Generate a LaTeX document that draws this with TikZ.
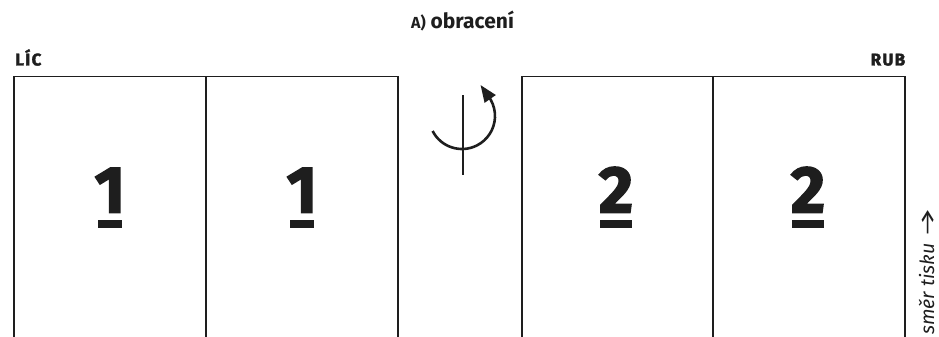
\documentclass[tikz,border=0pt]{standalone}
\usepackage{fontspec}
\setmainfont{Fira Sans}
\usetikzlibrary{arrows.meta}
\definecolor{ink}{HTML}{1E1E1E}
\newfontfamily\heavyfont[FakeBold=2]{Fira Sans Bold}
\newfontfamily\digitfont[FakeBold=2.5]{Fira Sans Bold}
\tikzset{
  sheet/.style={draw=ink, line width=1.1pt},
  title/.style={font=\fontsize{21}{21}\selectfont\bfseries, text=ink, inner sep=0pt},
  side/.style={font=\fontsize{17}{17}\heavyfont\addfontfeature{LetterSpace=8}, text=ink, inner sep=0pt},
  pagenum/.style={font=\fontsize{66}{66}\digitfont, text=ink, inner sep=0pt},
  bar/.style={fill=ink, draw=none},
  rot/.style={draw=ink, line width=2.6pt},
  dir/.style={font=\fontsize{19.5}{19.5}\selectfont\itshape, text=ink, inner sep=0pt, rotate=90}
}
\begin{document}
\begin{tikzpicture}[x=1pt,y=-1pt]
\useasboundingbox (0,0) rectangle (939,337);
\clip (0,0) rectangle (939,337);
\node[title, anchor=base] (t) at (462.5,29) {{\fontsize{16}{16}\selectfont A)} obracení};
\node[side, anchor=base west] (lic) at (15,65.5) {LÍC};
\node[side, anchor=base east] (rub) at (905.5,65.5) {RUB};
% sheets
\draw[sheet] (14,360) -- (14,76.5) -- (398,76.5) -- (398,360);
\draw[sheet] (206,76.5) -- (206,360);
\draw[sheet] (522,360) -- (522,76.5) -- (905,76.5) -- (905,360);
\draw[sheet] (713,76.5) -- (713,360);
% numbers
\node[pagenum, anchor=base] (n1) at (110,212.5) {1};
\node[pagenum, anchor=base] (n2) at (302,212.5) {1};
\node[pagenum, anchor=base] (n3) at (616,212.5) {2};
\node[pagenum, anchor=base] (n4) at (808,212.5) {2};
\fill[bar] (98,220) rectangle (122,228);
\fill[bar] (290,220) rectangle (314,228);
\fill[bar] (600,220) rectangle (632,228);
\fill[bar] (792,220) rectangle (824,228);
% rotation symbol
\coordinate (axtop) at (463,95);
\coordinate (axbot) at (463,175);
\draw[rot] (axtop) -- (axbot);
\coordinate (c) at (462,116);
\coordinate (tip) at (480.5,85);
\draw[rot, -{Triangle[length=17pt,width=13pt]}] ([shift={(153:33)}]c) arc[start angle=153, end angle=-30, radius=33] -- (tip);
% direction
\node[dir, anchor=base west] (d) at (934,335) {směr tisku \scalebox{1.8}[1]{→}};
\end{tikzpicture}
\end{document}
